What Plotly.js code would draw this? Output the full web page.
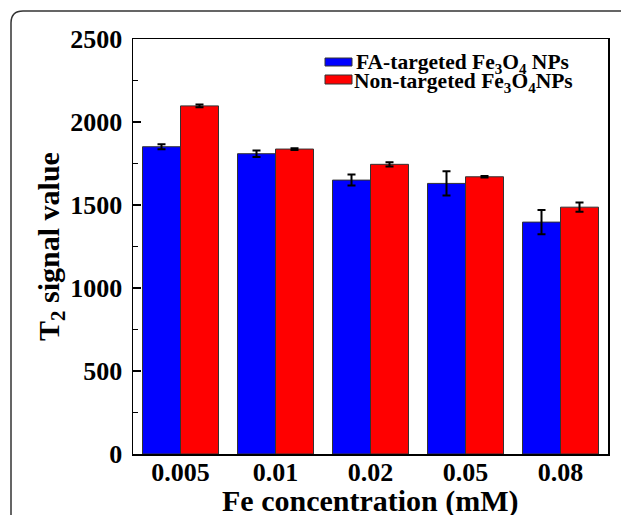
<!DOCTYPE html>
<html>
<head>
<meta charset="utf-8">
<script src="https://cdn.plot.ly/plotly-3.0.1.min.js"></script>
<style>
html,body{margin:0;padding:0;background:#fff;}
#chart{width:621px;height:515px;}
</style>
</head>
<body>
<div id="chart"></div>
<script>
// Data
const categories = ['0.005', '0.01', '0.02', '0.05', '0.08'];
const faTargeted = [1851, 1809, 1650, 1630, 1397];
const faTargetedErr = [15, 20, 33, 73, 73];
const nonTargeted = [2097, 1837, 1745, 1670, 1487];
const nonTargetedErr = [8, 5, 13, 5, 28];
const seriesNames = ['FA-targeted Fe<sub>3</sub>O<sub>4</sub> NPs', 'Non-targeted Fe<sub>3</sub>O<sub>4</sub>NPs'];
const seriesColors = ['#0000FF', '#FF0000'];
const xTitle = 'Fe concentration (mM)';
const yTitle = 'T<sub>2</sub> signal value';

const FONT = '"Liberation Serif", "Times New Roman", serif';

const traces = [
  {
    type: 'bar', name: seriesNames[0], x: categories, y: faTargeted,
    marker: {color: seriesColors[0], line: {color: '#333333', width: 1}},
    error_y: {type: 'data', array: faTargetedErr, visible: true, color: '#000', thickness: 2, width: 4},
    showlegend: false
  },
  {
    type: 'bar', name: seriesNames[1], x: categories, y: nonTargeted,
    marker: {color: seriesColors[1], line: {color: '#333333', width: 1}},
    error_y: {type: 'data', array: nonTargetedErr, visible: true, color: '#000', thickness: 2, width: 4},
    showlegend: false
  }
];

// pixel -> paper helpers for decorations
const px = v => (v - 133) / 475;
const py = v => (454 - v) / 415;

const shapes = [
  // outer rounded frame
  {type: 'path', xref: 'paper', yref: 'paper',
   path: `M ${px(11)},${py(530)} L ${px(11)},${py(23)} Q ${px(11)},${py(11)} ${px(23)},${py(11)} L ${px(640)},${py(11)}`,
   line: {color: '#333333', width: 1.5}},
  {type: 'rect', xref: 'paper', yref: 'paper', x0: px(325), x1: px(352), y0: py(66), y1: py(58),
   fillcolor: seriesColors[0], line: {color: '#333', width: 1}},
  {type: 'rect', xref: 'paper', yref: 'paper', x0: px(325), x1: px(352), y0: py(84), y1: py(75),
   fillcolor: seriesColors[1], line: {color: '#333', width: 1}}
];

const annotations = [
  {xref: 'paper', yref: 'paper', x: px(354), y: py(64), xanchor: 'left', yanchor: 'middle',
   text: seriesNames[0], showarrow: false, font: {family: FONT, size: 21.5, color: '#000', weight: 'bold'}},
  {xref: 'paper', yref: 'paper', x: px(352), y: py(82), xanchor: 'left', yanchor: 'middle',
   text: seriesNames[1], showarrow: false, font: {family: FONT, size: 21.5, color: '#000', weight: 'bold'}},
  // x-axis title
  {xref: 'paper', yref: 'paper', x: 0.5, y: py(482), xanchor: 'center', yanchor: 'top',
   text: xTitle, showarrow: false, font: {family: FONT, size: 30, color: '#000', weight: 'bold'}}
];

const layout = {
  width: 621, height: 515,
  margin: {l: 133, r: 13, t: 39, b: 61, pad: 0},
  paper_bgcolor: '#fff', plot_bgcolor: '#fff',
  barmode: 'group', bargap: 0.2, bargroupgap: 0,
  showlegend: false,
  font: {family: FONT, color: '#000'},
  xaxis: {
    type: 'category', range: [-0.5, 4.5],
    showline: true, linecolor: '#000', linewidth: 1.5, mirror: true,
    ticks: '', showgrid: false, zeroline: false,
    ticklabelstandoff: -6,
    tickfont: {family: FONT, size: 26, color: '#000', weight: 'bold'},
    automargin: false
  },
  yaxis: {
    range: [0, 2500], dtick: 500, tick0: 0,
    showline: true, linecolor: '#000', linewidth: 1.5, mirror: true,
    ticks: 'inside', ticklen: 8, tickwidth: 1.5, tickcolor: '#000',
    minor: {dtick: 250, ticks: 'inside', ticklen: 5, tickwidth: 1.5, tickcolor: '#000', showgrid: false},
    showgrid: false, zeroline: false,
    ticklabelstandoff: 4,
    tickfont: {family: FONT, size: 26, color: '#000', weight: 'bold'},
    title: {text: yTitle, font: {family: FONT, size: 30, color: '#000', weight: 'bold'}, standoff: 2},
    automargin: false
  },
  shapes: shapes,
  annotations: annotations
};

Plotly.newPlot('chart', traces, layout, {displayModeBar: false, staticPlot: true});
</script>
</body>
</html>
